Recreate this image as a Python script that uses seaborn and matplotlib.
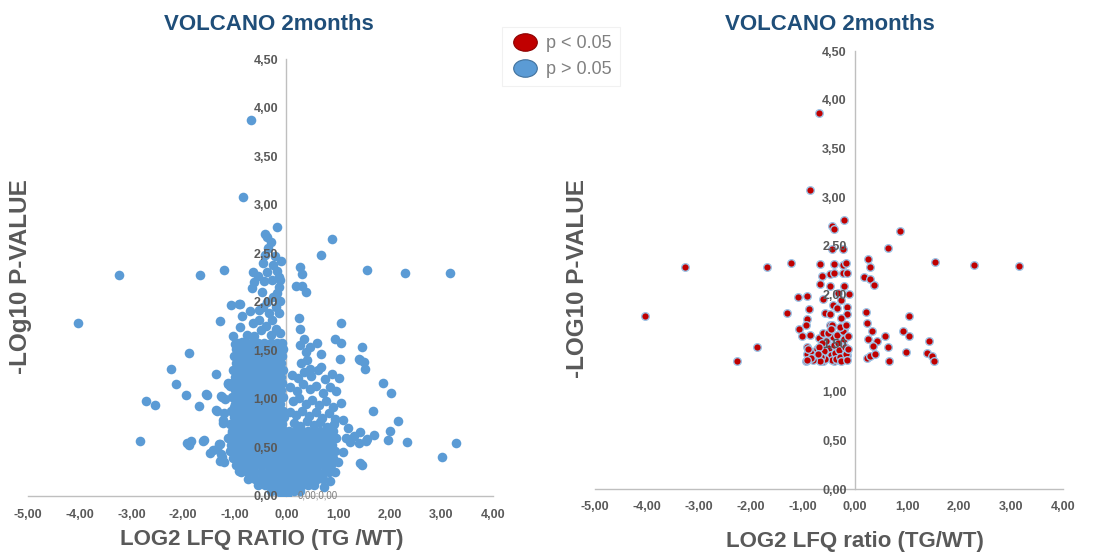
import pandas as pd
import seaborn as sns
import matplotlib.pyplot as plt
from matplotlib.lines import Line2D
from matplotlib.path import Path
from matplotlib.transforms import Affine2D

# ---------------- datos ----------------
# Panel izquierdo: todas las proteinas (puntos sueltos)
all_x = [-0.68, -0.84, -0.19, -0.42, -0.37, 0.88, 0.67, -0.42, -0.21,
         -3.24, -1.68, -1.21, -0.65, -0.37, -0.18, 0.26, 0.30, 1.56, 2.30, 3.17,
         -4.03, -1.07, -0.92, -1.28, -1.04, -1.00, -1.88, -2.23, -2.14, -1.37, -1.12, -1.10,
         -1.94, -1.53, -1.25, -1.19, -2.71, -2.55, -1.70, -1.35, -1.21, -1.23, -1.22, -2.84,
         -1.93, -1.85, -1.89, -1.61, -1.29, -1.34, -1.48, -1.26, -1.28, -1.20, -0.92, -1.02, -1.05,
         1.46, 1.51, 1.52, 1.43, 1.87, 2.02, 1.68, 2.17, 2.01, 1.70, 1.54, 1.97, 2.34, 3.28,
         3.02, 1.46, 1.43,
         0.19, 0.30, 0.39, 0.25, 1.06, 0.26, 0.35, 0.94, 1.06, 0.60, 0.26, 0.45, 0.39, 0.67,
         1.03, 1.40, 0.40, 0.29, 0.46, 0.67,
         -0.15, -0.43, -0.62, -0.28, -0.12, -0.66, -0.47, -0.18, -0.89, -0.37, -0.12, -0.53,
         -0.34, -0.86, -0.15, -0.53, -0.28, -0.90, -0.50, -0.76, -0.86,
         -1.12, -1.55, -1.26, -1.02, -1.37, -1.60, -1.31, -1.41, -1.25, -0.86,
         1.24, 1.41, 1.56, 1.43, 1.10, 1.00, 0.95, 0.85, 0.72,
         -0.25, -0.45, -0.20, -0.65, -0.40, -0.20, -0.62, -0.30, -0.12, -0.70, -0.15,
         -0.55, -0.25, -0.45, -0.10, -0.35, -0.30,
         0.10, 0.22, 0.35, 0.48, 0.62, 0.75, 0.88, 1.02, 0.08, 0.20, 0.33, 0.45, 0.58, 0.70,
         0.84, 0.96, 0.12, 0.25, 0.38, 0.50, 0.64, 0.77, 0.90, 1.05, 0.07, 0.19, 0.31, 0.44,
         0.57, 0.69, 0.82, 0.95, 1.10, 0.14, 0.27, 0.40, 0.53, 0.66, 0.79, 0.92, 1.20, 1.30, 1.15]
all_y = [3.87, 3.08, 2.77, 2.70, 2.67, 2.65, 2.48, 2.48, 2.47,
         2.28, 2.28, 2.33, 2.31, 2.31, 2.32, 2.36, 2.29, 2.33, 2.30, 2.30,
         1.78, 1.97, 1.98, 1.80, 1.65, 1.57, 1.47, 1.31, 1.15, 1.26, 1.15, 1.13,
         1.04, 1.04, 1.02, 1.00, 0.98, 0.94, 0.93, 0.88, 0.85, 0.78, 0.75, 0.57,
         0.55, 0.57, 0.53, 0.57, 0.54, 0.48, 0.44, 0.43, 0.36, 0.35, 0.26, 0.54, 0.65,
         1.53, 1.38, 1.31, 1.40, 1.16, 1.06, 0.88, 0.77, 0.67, 0.63, 0.57, 0.58, 0.56, 0.55,
         0.40, 0.32, 0.66,
         2.16, 2.16, 2.10, 1.83, 1.78, 1.72, 1.62, 1.62, 1.58, 1.58, 1.55, 1.53, 1.48, 1.46,
         1.41, 1.41, 1.40, 1.37, 1.31, 1.33,
         2.26, 2.21, 2.20, 2.22, 2.22, 2.14, 2.10, 2.09, 1.98, 2.00, 2.01, 1.92,
         1.88, 1.85, 1.88, 1.81, 1.81, 1.74, 1.71, 1.66, 1.59,
         1.16, 1.05, 1.03, 0.92, 0.89, 0.58, 0.54, 0.47, 0.40, 0.27,
         0.56, 0.55, 0.59, 0.34, 0.45, 0.35, 0.25, 0.15, 0.09,
         2.05, 1.95, 1.95, 1.78, 1.75, 1.72, 1.65, 1.66, 1.68, 1.90, 2.15,
         2.27, 2.38, 2.40, 2.42, 2.55, 2.62,
         1.25, 1.22, 1.28, 1.24, 1.30, 1.20, 1.26, 1.22, 1.12, 1.08, 1.15, 1.10, 1.13, 1.06,
         1.12, 1.08, 0.98, 1.01, 0.95, 0.99, 0.94, 0.98, 0.92, 0.96, 0.86, 0.83, 0.88, 0.82,
         0.86, 0.80, 0.85, 0.79, 0.78, 0.75, 0.72, 0.77, 0.73, 0.76, 0.71, 0.74, 0.70, 0.62, 0.60]

# Nucleo denso del volcan: un nivel de -log10 p por fila
core_y = [1.58, 1.51, 1.44, 1.37, 1.30, 1.23, 1.16, 1.09, 1.02, 0.95, 0.88, 0.81, 0.74,
          0.67, 0.60, 0.53, 0.46, 0.39, 0.32, 0.25, 0.18, 0.11, 0.05, 0.01]
core_x = [
    [-0.93, -0.80, -0.68, -0.55, -0.43, -0.30, -0.19, -0.09],
    [-0.98, -0.86, -0.74, -0.61, -0.49, -0.37, -0.25, -0.13, -0.07],
    [-1.02, -0.90, -0.77, -0.66, -0.52, -0.41, -0.28, -0.16, -0.08],
    [-0.97, -0.84, -0.72, -0.58, -0.46, -0.33, -0.21, -0.10],
    [-1.04, -0.92, -0.79, -0.65, -0.53, -0.40, -0.27, -0.15, -0.07],
    [-1.00, -0.87, -0.74, -0.61, -0.48, -0.36, -0.23, -0.11],
    [-1.05, -0.93, -0.81, -0.68, -0.55, -0.42, -0.30, -0.17, -0.08],
    [-0.99, -0.86, -0.73, -0.60, -0.47, -0.35, -0.22, -0.10],
    [-1.06, -0.94, -0.80, -0.67, -0.54, -0.41, -0.28, -0.15, -0.06],
    [-1.00, -0.88, -0.75, -0.62, -0.50, -0.37, -0.24, -0.12],
    [-1.08, -0.95, -0.82, -0.69, -0.56, -0.43, -0.30, -0.18, -0.07],
    [-1.02, -0.89, -0.76, -0.63, -0.51, -0.38, -0.25, -0.13, -0.05],
    [-1.10, -0.97, -0.84, -0.70, -0.57, -0.44, -0.31, -0.19, -0.08],
    [-1.06, -0.93, -0.80, -0.67, -0.54, -0.41, -0.28, -0.16, -0.05,
     0.06, 0.18, 0.30, 0.42, 0.54, 0.66, 0.78, 0.90],
    [-1.12, -0.99, -0.86, -0.73, -0.60, -0.47, -0.34, -0.22, -0.10, -0.02,
     0.02, 0.13, 0.25, 0.37, 0.49, 0.61, 0.73, 0.85, 0.97],
    [-1.08, -0.95, -0.82, -0.69, -0.56, -0.43, -0.30, -0.18, -0.06,
     0.05, 0.17, 0.29, 0.41, 0.53, 0.65, 0.77, 0.89],
    [-1.10, -0.97, -0.84, -0.71, -0.58, -0.45, -0.32, -0.20, -0.08,
     0.02, 0.12, 0.24, 0.36, 0.48, 0.60, 0.72, 0.84, 0.95],
    [-1.04, -0.91, -0.78, -0.65, -0.52, -0.39, -0.26, -0.14, -0.03,
     0.06, 0.18, 0.30, 0.42, 0.54, 0.66, 0.78, 0.90],
    [-0.98, -0.86, -0.73, -0.60, -0.47, -0.34, -0.22, -0.10,
     0.03, 0.14, 0.26, 0.38, 0.50, 0.62, 0.74, 0.86],
    [-0.88, -0.75, -0.62, -0.49, -0.36, -0.24, -0.12, 0.00, 0.12, 0.24, 0.36, 0.48,
     0.60, 0.72, 0.82],
    [-0.74, -0.61, -0.48, -0.35, -0.23, -0.11, 0.01, 0.13, 0.25, 0.37, 0.49, 0.60, 0.70],
    [-0.55, -0.42, -0.30, -0.18, -0.06, 0.06, 0.18, 0.30, 0.42, 0.54],
    [-0.30, -0.18, -0.07, 0.04, 0.15, 0.27],
    [-0.08, 0.02],
]

# Panel derecho: solo proteinas con p < 0.05
sig_x = [-0.70, -0.87, -0.22, -0.45, -0.40, 0.87, 0.64, -0.45, -0.24, -3.27, -1.69, -1.24,
         -0.68, -0.40, -0.24, -0.18, 0.25, 0.28, 1.53, 2.28, 3.16, -0.64, -0.48, -0.40,
         -0.24, -0.15, 0.17, 0.29, 0.37, -0.68, -0.48, -0.21, -0.32, -0.12, -1.10, -0.93,
         -0.61, -0.26, -0.42, -0.15, -0.35, -0.88, -1.30, -4.04, -0.58, -0.48, -0.16, 0.21,
         1.04, -0.93, -0.27, 0.24, -0.49, -0.94, -0.44, -1.08, -0.21, 0.33, 0.92, 1.04,
         0.58, 0.25, 0.43, 1.42, -1.02, -0.87, -0.70, -0.61, -0.93, -1.89, 0.35, 0.64,
         0.99, 1.38, 1.49, 1.51, -2.26, -0.94, -0.93, -0.83, -0.74, -0.77, -0.61, -0.40,
         -0.15, 0.24, 0.29, 0.38, 0.65,
         -0.55, -0.50, -0.47, -0.44, -0.42, -0.40, -0.38, -0.36, -0.34, -0.32, -0.30, -0.28,
         -0.26, -0.24, -0.22, -0.20, -0.18, -0.16, -0.14, -0.13, -0.52, -0.46, -0.29, -0.17,
         -0.57, -0.60, -0.64, -0.66, -0.70, -0.68, -0.72, -0.80, -0.85, -0.90, -0.93]
sig_y = [3.86, 3.07, 2.76, 2.70, 2.67, 2.65, 2.48, 2.47, 2.47, 2.28, 2.28, 2.32,
         2.31, 2.31, 2.30, 2.32, 2.36, 2.28, 2.33, 2.30, 2.29, 2.19, 2.21, 2.22,
         2.22, 2.22, 2.18, 2.16, 2.10, 2.11, 2.09, 2.09, 2.01, 2.00, 1.97, 1.98,
         1.95, 1.94, 1.89, 1.87, 1.86, 1.85, 1.81, 1.78, 1.81, 1.80, 1.80, 1.82,
         1.78, 1.75, 1.76, 1.71, 1.69, 1.68, 1.68, 1.64, 1.64, 1.62, 1.62, 1.57,
         1.57, 1.54, 1.52, 1.52, 1.57, 1.58, 1.55, 1.60, 1.46, 1.46, 1.47, 1.46,
         1.41, 1.40, 1.37, 1.31, 1.31, 1.31, 1.39, 1.41, 1.44, 1.36, 1.31, 1.31,
         1.38, 1.35, 1.37, 1.39, 1.32,
         1.52, 1.45, 1.38, 1.33, 1.56, 1.48, 1.40, 1.34, 1.58, 1.50, 1.43, 1.36,
         1.31, 1.62, 1.54, 1.46, 1.39, 1.33, 1.57, 1.44, 1.60, 1.64, 1.66, 1.68,
         1.34, 1.42, 1.50, 1.36, 1.46, 1.31, 1.39, 1.33, 1.35, 1.44, 1.33]

x_ticks = [-5, -4, -3, -2, -1, 0, 1, 2, 3, 4]
y_ticks = [0, 0.5, 1.0, 1.5, 2.0, 2.5, 3.0, 3.5, 4.0, 4.5]

titles = ["VOLCANO 2months", "VOLCANO 2months"]
x_labels = ["LOG2 LFQ RATIO (TG /WT)", "LOG2 LFQ ratio (TG/WT)"]
y_labels = ["-LOg10 P-VALUE", "-LOG10 P-VALUE"]
legend_labels = ["p < 0.05", "p > 0.05"]

# ---------------- tablas ----------------
core_xs = [x for row in core_x for x in row]
core_ys = [y for y, row in zip(core_y, core_x) for _ in row]
df_all = pd.DataFrame({"ratio": all_x + core_xs, "logp": all_y + core_ys})
df_sig = pd.DataFrame({"ratio": sig_x, "logp": sig_y})

def coma(v):
    return f"{v:.2f}".replace(".", ",")

# ---------------- figura ----------------
sns.set_theme(style="white")
plt.rcParams["font.family"] = ["Liberation Sans", "DejaVu Sans"]

fig = plt.figure(figsize=(10.99, 5.54), dpi=100)
ax1 = fig.add_axes([28 / 1099, 58 / 554, 465 / 1099, 437 / 554])
ax2 = fig.add_axes([595 / 1099, 65 / 554, 468 / 1099, 438 / 554])

BLUE = "#5B9BD5"
RED = "#C00000"
GRAY = "#595959"

sns.scatterplot(data=df_all, x="ratio", y="logp", ax=ax1, color=BLUE,
                s=48, linewidth=0, legend=False)
sns.scatterplot(data=df_sig, x="ratio", y="logp", ax=ax2, color=RED,
                s=30, edgecolor="#9DC3E6", linewidth=1.0, legend=False)

for ax in (ax1, ax2):
    ax.set_axisbelow(False)  # etiquetas de los ejes por encima de los puntos
    ax.set_xlim(-5, 4)
    ax.set_ylim(0, 4.5)
    ax.spines["left"].set_position(("data", 0))
    ax.spines["top"].set_visible(False)
    ax.spines["right"].set_visible(False)
    for sp in ("left", "bottom"):
        ax.spines[sp].set_color("#BFBFBF")
        ax.spines[sp].set_linewidth(1.0)
        ax.spines[sp].set_zorder(0.5)
    ax.set_xticks(x_ticks)
    ax.set_xticklabels([coma(v) for v in x_ticks])
    ax.set_yticks(y_ticks)
    ax.set_yticklabels([coma(v) for v in y_ticks])
    ax.tick_params(axis="both", length=0, labelsize=9, labelcolor=GRAY)
    ax.tick_params(axis="x", pad=9)
    ax.tick_params(axis="y", pad=6)
    for lab in ax.get_xticklabels() + ax.get_yticklabels():
        lab.set_fontweight("bold")
    ax.set_xlabel("")
    ax.set_ylabel("")
    ax.patch.set_alpha(0)

# etiqueta de datos del origen
ax1.text(0.21, 0.0, "0,00;0,00", fontsize=7, color="#7F7F7F", va="center", ha="left",
         zorder=3)

# titulos y ejes
fig.text(269 / 1099, 1 - 24 / 554, titles[0], ha="center", va="center",
         fontsize=16, fontweight="bold", color="#1F4E79")
fig.text(830 / 1099, 1 - 24 / 554, titles[1], ha="center", va="center",
         fontsize=16, fontweight="bold", color="#1F4E79")
fig.text(262 / 1099, 1 - 539 / 554, x_labels[0], ha="center", va="center",
         fontsize=16, fontweight="bold", color=GRAY)
fig.text(855 / 1099, 1 - 541 / 554, x_labels[1], ha="center", va="center",
         fontsize=16, fontweight="bold", color=GRAY)
fig.text(21 / 1099, 1 - 277 / 554, y_labels[0], ha="center", va="center",
         rotation=90, fontsize=17.5, fontweight="bold", color=GRAY)
fig.text(578 / 1099, 1 - 279 / 554, y_labels[1], ha="center", va="center",
         rotation=90, fontsize=17.5, fontweight="bold", color=GRAY)

# leyenda con marcadores ovalados
oval = Path.unit_circle().transformed(Affine2D().scale(1.35, 1.0))
handles = [
    Line2D([], [], linestyle="none", marker=oval, markersize=17,
           markerfacecolor=RED, markeredgecolor="#8B0000", markeredgewidth=0.8),
    Line2D([], [], linestyle="none", marker=oval, markersize=17,
           markerfacecolor=BLUE, markeredgecolor="#41719C", markeredgewidth=0.8),
]
leg = fig.legend(handles, legend_labels, loc="upper left",
                 bbox_to_anchor=(493 / 1099, 1 - 18 / 554), fontsize=13,
                 labelcolor="#808080", frameon=True, fancybox=False,
                 edgecolor="#EEEEEE", handletextpad=0.4, labelspacing=0.5,
                 borderpad=0.45, handlelength=1.6)
leg.get_frame().set_linewidth(0.8)

fig.savefig("out.png", dpi=100)
